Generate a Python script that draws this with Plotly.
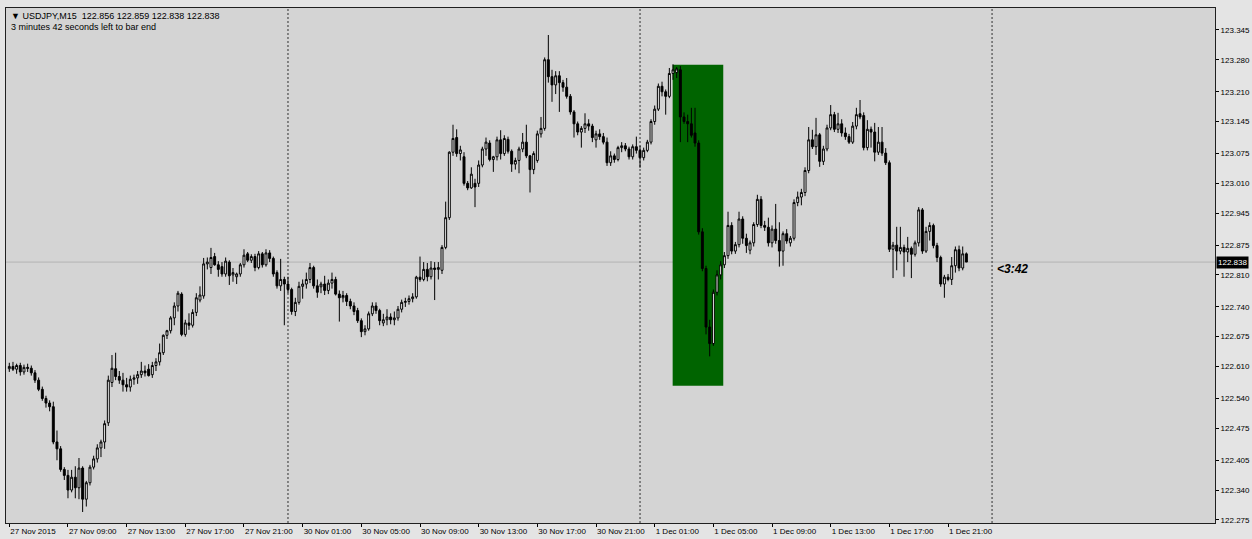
import plotly.graph_objects as go

# ---------------- data (USDJPY M15, one bar per 15 minutes, first bar 27 Nov 05:00) ----------------
opens = [
    122.605, 122.610, 122.604, 122.612, 122.598, 122.608, 122.606, 122.596, 122.580, 122.560,
    122.540, 122.530, 122.522, 122.445, 122.430, 122.385, 122.372, 122.340, 122.368, 122.345,
    122.388, 122.320, 122.356, 122.390, 122.408, 122.432, 122.445, 122.487, 122.575, 122.605,
    122.588, 122.580, 122.570, 122.565, 122.582, 122.585, 122.592, 122.600, 122.604, 122.592,
    122.612, 122.620, 122.640, 122.678, 122.688, 122.716, 122.742, 122.768, 122.680, 122.705,
    122.700, 122.728, 122.755, 122.764, 122.834, 122.826, 122.850, 122.832, 122.828, 122.812,
    122.838, 122.810, 122.806, 122.812, 122.832, 122.856, 122.842, 122.850, 122.826, 122.856,
    122.832, 122.858, 122.846, 122.815, 122.786, 122.800, 122.790, 122.778, 122.730, 122.750,
    122.785, 122.790, 122.800, 122.826, 122.786, 122.784, 122.790, 122.776, 122.792, 122.800,
    122.768, 122.760, 122.765, 122.752, 122.742, 122.732, 122.710, 122.686, 122.692, 122.725,
    122.742, 122.732, 122.705, 122.712, 122.718, 122.712, 122.716, 122.735, 122.750, 122.752,
    122.758, 122.762, 122.805, 122.800, 122.822, 122.806, 122.825, 122.822, 122.820, 122.870,
    122.935, 123.078, 123.110, 123.075, 123.068, 123.010, 123.000, 123.010, 123.010, 123.050,
    123.085, 123.098, 123.062, 123.068, 123.105, 123.075, 123.106, 123.080, 123.052, 123.060,
    123.085, 123.100, 123.070, 123.040, 123.060, 123.118, 123.130, 123.280, 123.243, 123.225,
    123.245, 123.230, 123.220, 123.200, 123.166, 123.140, 123.122, 123.130, 123.140, 123.135,
    123.105, 123.118, 123.112, 123.100, 123.055, 123.070, 123.062, 123.088, 123.092, 123.085,
    123.068, 123.090, 123.082, 123.066, 123.082, 123.100, 123.145, 123.172, 123.222, 123.210,
    123.200, 123.250, 123.252, 123.258, 123.155, 123.145, 123.140, 123.120, 123.098, 122.904,
    122.824, 122.696, 122.660, 122.772, 122.810, 122.832, 122.852, 122.918, 122.862, 122.876,
    122.932, 122.890, 122.864, 122.880, 122.920, 122.975, 122.918, 122.914, 122.880, 122.910,
    122.885, 122.862, 122.900, 122.880, 122.890, 122.968, 122.980, 122.990, 123.038, 123.105,
    123.090, 123.116, 123.058, 123.085, 123.131, 123.160, 123.128, 123.140, 123.120, 123.112,
    123.100, 123.135, 123.162, 123.158, 123.088, 123.128, 123.122, 123.078, 123.100, 123.076,
    123.055, 122.866, 122.875, 122.862, 122.870, 122.860, 122.868, 122.855, 122.880, 122.952,
    122.862, 122.905, 122.918, 122.874, 122.848, 122.790, 122.805, 122.800, 122.830, 122.865,
    122.825, 122.856,
]
highs = [
    122.618, 122.620, 122.616, 122.618, 122.614, 122.616, 122.612, 122.602, 122.586, 122.566,
    122.546, 122.536, 122.533, 122.470, 122.436, 122.390, 122.384, 122.384, 122.392, 122.410,
    122.392, 122.360, 122.395, 122.415, 122.440, 122.450, 122.492, 122.590, 122.635, 122.640,
    122.600, 122.596, 122.585, 122.590, 122.592, 122.600, 122.620, 122.612, 122.615, 122.620,
    122.628, 122.660, 122.680, 122.690, 122.720, 122.750, 122.775, 122.772, 122.712, 122.726,
    122.735, 122.770, 122.785, 122.847, 122.848, 122.869, 122.858, 122.840, 122.838, 122.848,
    122.842, 122.825, 122.815, 122.836, 122.866, 122.860, 122.855, 122.856, 122.862, 122.860,
    122.866, 122.864, 122.850, 122.820, 122.845, 122.806, 122.806, 122.782, 122.760, 122.795,
    122.800, 122.815, 122.836, 122.830, 122.800, 122.795, 122.808, 122.800, 122.815, 122.806,
    122.776, 122.775, 122.770, 122.758, 122.750, 122.738, 122.715, 122.700, 122.730, 122.750,
    122.750, 122.736, 122.725, 122.735, 122.726, 122.730, 122.742, 122.756, 122.760, 122.765,
    122.770, 122.808, 122.850, 122.838, 122.836, 122.840, 122.838, 122.838, 122.875, 122.970,
    123.080, 123.138, 123.128, 123.092, 123.078, 123.015, 123.045, 123.020, 123.060, 123.090,
    123.110, 123.104, 123.070, 123.112, 123.126, 123.115, 123.112, 123.084, 123.066, 123.090,
    123.120, 123.138, 123.072, 123.080, 123.125, 123.155, 123.285, 123.334, 123.258, 123.255,
    123.255, 123.236, 123.240, 123.205, 123.170, 123.145, 123.135, 123.163, 123.150, 123.140,
    123.125, 123.128, 123.120, 123.110, 123.080, 123.075, 123.092, 123.100, 123.098, 123.090,
    123.095, 123.112, 123.092, 123.088, 123.105, 123.150, 123.180, 123.228, 123.232, 123.215,
    123.262, 123.270, 123.264, 123.266, 123.165, 123.160, 123.175, 123.175, 123.104, 122.912,
    122.830, 122.712, 122.778, 122.820, 122.840, 122.860, 122.948, 122.925, 122.882, 122.948,
    122.938, 122.900, 122.885, 122.925, 122.985, 122.982, 122.928, 122.935, 122.918, 122.965,
    122.925, 122.905, 122.910, 122.895, 122.975, 122.992, 122.998, 123.045, 123.133, 123.127,
    123.153, 123.120, 123.092, 123.138, 123.181, 123.166, 123.164, 123.150, 123.132, 123.118,
    123.144, 123.175, 123.192, 123.165, 123.148, 123.134, 123.142, 123.133, 123.133, 123.087,
    123.060, 122.882, 122.915, 122.915, 122.876, 122.893, 122.872, 122.885, 122.958, 122.956,
    122.915, 122.925, 122.922, 122.880, 122.852, 122.810, 122.812, 122.849, 122.872, 122.874,
    122.872, 122.859,
]
lows = [
    122.598, 122.600, 122.594, 122.590, 122.592, 122.598, 122.590, 122.574, 122.556, 122.535,
    122.520, 122.512, 122.440, 122.405, 122.380, 122.362, 122.322, 122.335, 122.322, 122.320,
    122.292, 122.304, 122.350, 122.385, 122.400, 122.412, 122.430, 122.480, 122.565, 122.580,
    122.572, 122.555, 122.555, 122.555, 122.570, 122.572, 122.585, 122.588, 122.588, 122.585,
    122.600, 122.612, 122.635, 122.670, 122.682, 122.700, 122.730, 122.676, 122.675, 122.690,
    122.695, 122.720, 122.750, 122.758, 122.822, 122.812, 122.830, 122.806, 122.806, 122.806,
    122.788, 122.795, 122.790, 122.806, 122.826, 122.838, 122.836, 122.818, 122.822, 122.826,
    122.828, 122.838, 122.806, 122.780, 122.775, 122.700, 122.770, 122.723, 122.720, 122.745,
    122.758, 122.780, 122.792, 122.780, 122.760, 122.770, 122.766, 122.768, 122.780, 122.765,
    122.708, 122.750, 122.742, 122.735, 122.722, 122.705, 122.674, 122.678, 122.688, 122.720,
    122.725, 122.700, 122.698, 122.700, 122.702, 122.700, 122.710, 122.728, 122.740, 122.745,
    122.750, 122.758, 122.795, 122.796, 122.796, 122.800, 122.755, 122.800, 122.812, 122.866,
    122.930, 123.070, 123.068, 123.060, 123.005, 122.995, 122.998, 122.958, 123.002, 123.045,
    123.070, 123.058, 123.035, 123.060, 123.062, 123.070, 123.075, 123.035, 123.040, 123.032,
    123.078, 123.065, 122.990, 123.030, 123.055, 123.110, 123.125, 123.230, 123.188, 123.205,
    123.166, 123.210, 123.195, 123.160, 123.110, 123.115, 123.088, 123.120, 123.125, 123.100,
    123.088, 123.105, 123.095, 123.048, 123.048, 123.055, 123.058, 123.078, 123.080, 123.062,
    123.062, 123.075, 123.044, 123.060, 123.078, 123.095, 123.138, 123.168, 123.200, 123.160,
    123.196, 123.236, 123.240, 123.100, 123.140, 123.100, 123.110, 123.090, 122.898, 122.818,
    122.680, 122.632, 122.655, 122.765, 122.800, 122.825, 122.845, 122.855, 122.856, 122.870,
    122.878, 122.858, 122.855, 122.872, 122.915, 122.912, 122.906, 122.872, 122.870, 122.878,
    122.828, 122.830, 122.878, 122.872, 122.885, 122.960, 122.962, 122.982, 123.032, 123.085,
    123.072, 123.046, 123.050, 123.080, 123.126, 123.122, 123.120, 123.112, 123.105, 123.096,
    123.096, 123.128, 123.150, 123.082, 123.082, 123.088, 123.058, 123.072, 123.070, 123.050,
    122.860, 122.803, 122.820, 122.855, 122.806, 122.838, 122.803, 122.850, 122.872, 122.856,
    122.858, 122.885, 122.868, 122.838, 122.784, 122.760, 122.796, 122.788, 122.815, 122.818,
    122.820, 122.838,
]
closes = [
    122.610, 122.604, 122.612, 122.598, 122.608, 122.606, 122.596, 122.580, 122.560, 122.540,
    122.530, 122.522, 122.445, 122.430, 122.385, 122.372, 122.340, 122.368, 122.345, 122.388,
    122.320, 122.356, 122.390, 122.408, 122.432, 122.445, 122.485, 122.580, 122.606, 122.588,
    122.580, 122.570, 122.565, 122.582, 122.585, 122.592, 122.600, 122.596, 122.590, 122.612,
    122.620, 122.640, 122.678, 122.688, 122.716, 122.742, 122.770, 122.680, 122.705, 122.700,
    122.728, 122.760, 122.766, 122.834, 122.838, 122.848, 122.832, 122.822, 122.812, 122.840,
    122.808, 122.815, 122.812, 122.832, 122.853, 122.842, 122.850, 122.826, 122.856, 122.832,
    122.858, 122.846, 122.812, 122.786, 122.800, 122.790, 122.778, 122.730, 122.750, 122.785,
    122.790, 122.800, 122.826, 122.786, 122.772, 122.790, 122.776, 122.792, 122.800, 122.768,
    122.760, 122.765, 122.752, 122.742, 122.730, 122.710, 122.686, 122.692, 122.725, 122.742,
    122.732, 122.710, 122.712, 122.718, 122.712, 122.716, 122.735, 122.750, 122.752, 122.758,
    122.762, 122.805, 122.800, 122.822, 122.806, 122.825, 122.822, 122.826, 122.870, 122.935,
    123.078, 123.108, 123.075, 123.083, 123.010, 123.000, 123.030, 123.002, 123.050, 123.085,
    123.100, 123.062, 123.068, 123.105, 123.075, 123.108, 123.080, 123.052, 123.060, 123.085,
    123.100, 123.070, 123.040, 123.075, 123.118, 123.130, 123.280, 123.243, 123.225, 123.245,
    123.230, 123.220, 123.200, 123.166, 123.140, 123.122, 123.130, 123.140, 123.135, 123.110,
    123.118, 123.112, 123.100, 123.055, 123.070, 123.062, 123.088, 123.092, 123.085, 123.068,
    123.090, 123.082, 123.066, 123.082, 123.100, 123.145, 123.172, 123.222, 123.210, 123.200,
    123.250, 123.258, 123.260, 123.155, 123.145, 123.140, 123.115, 123.098, 122.904, 122.824,
    122.696, 122.660, 122.772, 122.810, 122.832, 122.852, 122.918, 122.862, 122.876, 122.932,
    122.890, 122.874, 122.880, 122.920, 122.975, 122.918, 122.914, 122.880, 122.910, 122.885,
    122.862, 122.900, 122.884, 122.890, 122.968, 122.980, 122.990, 123.038, 123.105, 123.090,
    123.116, 123.058, 123.085, 123.131, 123.160, 123.128, 123.140, 123.120, 123.112, 123.100,
    123.135, 123.160, 123.155, 123.088, 123.128, 123.122, 123.078, 123.100, 123.076, 123.055,
    122.866, 122.875, 122.862, 122.870, 122.860, 122.868, 122.855, 122.880, 122.952, 122.862,
    122.905, 122.918, 122.874, 122.848, 122.790, 122.805, 122.800, 122.830, 122.865, 122.825,
    122.856, 122.838,
]

# time axis labels: bar index -> label
time_label_bars = [0, 16, 32, 48, 64, 80, 96, 112, 128, 144, 160, 176, 192, 208, 224, 240, 256]
time_labels = [
    "27 Nov 2015", "27 Nov 09:00", "27 Nov 13:00", "27 Nov 17:00", "27 Nov 21:00",
    "30 Nov 01:00", "30 Nov 05:00", "30 Nov 09:00", "30 Nov 13:00", "30 Nov 17:00",
    "30 Nov 21:00", "1 Dec 01:00", "1 Dec 05:00", "1 Dec 09:00", "1 Dec 13:00",
    "1 Dec 17:00", "1 Dec 21:00",
]
day_separator_bars = [76, 172, 268]

price_labels = [
    "123.345", "123.280", "123.210", "123.145", "123.075", "123.010", "122.945", "122.875",
    "122.810", "122.740", "122.675", "122.610", "122.540", "122.475", "122.405", "122.340", "122.275",
]
bid_price = 122.838
zone_bars = [180.9, 194.7]
zone_prices = [122.568, 123.269]

header_line = "\u25bc USDJPY,M15\u00a0\u00a0122.856 122.859 122.838 122.838"
timer_line = "3 minutes 42 seconds left to bar end"
countdown = "&lt;3:42"

# ---------------- figure ----------------
bars = list(range(len(opens)))

fig = go.Figure(go.Candlestick(
    x=bars, open=opens, high=highs, low=lows, close=closes,
    increasing=dict(line=dict(color="#000000", width=1), fillcolor="#ffffff"),
    decreasing=dict(line=dict(color="#000000", width=1), fillcolor="#000000"),
    whiskerwidth=0, hoverinfo="skip",
))

shapes = [
    dict(type="rect", xref="x", yref="y", x0=zone_bars[0], x1=zone_bars[1],
         y0=zone_prices[0], y1=zone_prices[1], fillcolor="#006400", line=dict(width=0), layer="below"),
    dict(type="line", xref="paper", yref="y", x0=0, x1=1, y0=bid_price, y1=bid_price,
         line=dict(color="#b4b4b4", width=1), layer="below"),
]
for b in day_separator_bars:
    shapes.append(dict(type="line", xref="x", yref="paper", x0=b, x1=b, y0=0, y1=1,
                       line=dict(color="#303030", width=1, dash="2px,2px"), layer="below"))

axis_font = dict(family="Liberation Sans, Arial, sans-serif", size=8, color="#000000")

fig.update_layout(
    width=1252, height=539,
    margin=dict(l=6, r=37, t=8, b=16, autoexpand=False),
    paper_bgcolor="#e4e4e4", plot_bgcolor="#d4d4d4",
    showlegend=False, boxgap=0.25,
    shapes=shapes,
    xaxis=dict(
        range=[-0.9, 328.8], rangeslider=dict(visible=False), showgrid=False, zeroline=False,
        tickmode="array", tickvals=time_label_bars, ticktext=time_labels,
        ticks="outside", ticklen=3, tickcolor="#000000", ticklabelposition="outside right",
        tickfont=axis_font, showline=True, linecolor="#202020", linewidth=1, mirror=True,
        fixedrange=True,
    ),
    yaxis=dict(
        side="right", range=[122.268, 123.393], showgrid=False, zeroline=False,
        tickmode="array", tickvals=[float(p) for p in price_labels], ticktext=price_labels,
        ticks="outside", ticklen=3, tickcolor="#000000", tickfont=axis_font,
        showline=True, linecolor="#202020", linewidth=1, mirror=True, fixedrange=True,
    ),
    annotations=[
        dict(xref="paper", yref="paper", x=0, y=1, xanchor="left", yanchor="top",
             xshift=3, yshift=-1, text=header_line, showarrow=False,
             font=dict(family="Liberation Sans, Arial, sans-serif", size=9, color="#000000")),
        dict(xref="paper", yref="paper", x=0, y=1, xanchor="left", yanchor="top",
             xshift=3, yshift=-12, text=timer_line, showarrow=False,
             font=dict(family="Liberation Sans, Arial, sans-serif", size=9, color="#000000")),
        dict(xref="x", yref="y", x=268.8, y=122.822, xanchor="left", yanchor="middle",
             text="<b><i>" + countdown + "</i></b>", showarrow=False,
             font=dict(family="Liberation Sans, Arial, sans-serif", size=12, color="#000000")),
        dict(xref="paper", yref="y", x=1, y=bid_price, xanchor="left", yanchor="middle",
             xshift=1, text=f"{bid_price:.3f}", showarrow=False, bgcolor="#000000",
             borderpad=1, font=dict(family="Liberation Sans, Arial, sans-serif", size=8, color="#ffffff")),
    ],
)

fig.write_html(
    "out.html",
    config={"displayModeBar": False, "staticPlot": True},
    post_script="document.body.style.margin='0';document.body.style.overflow='hidden';",
)
